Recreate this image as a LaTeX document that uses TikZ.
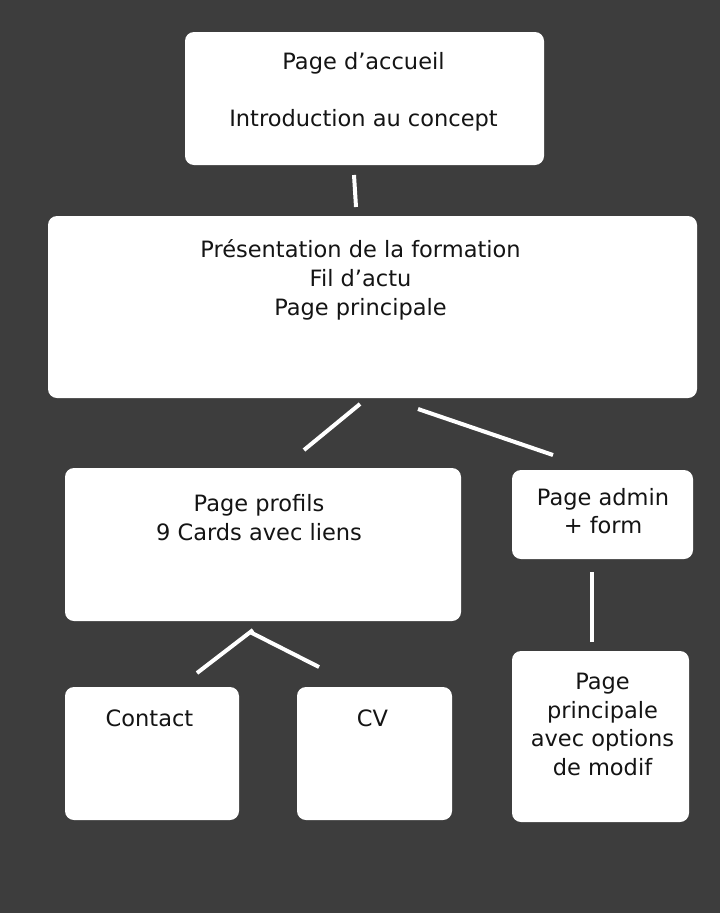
\documentclass[tikz,border=0pt]{standalone}
\usepackage{fontspec}
\setmainfont{DejaVu Sans}
\definecolor{bg}{RGB}{61,61,61}
\definecolor{ink}{RGB}{20,20,20}
\begin{document}
\begin{tikzpicture}[x=1pt,y=-1pt,
  box/.style={fill=white,draw=none,rounded corners=9pt,inner sep=0pt},
  txt/.style={anchor=base,inner sep=0pt,text=ink,font=\fontsize{22.5pt}{29pt}\selectfont},
  link/.style={draw=white,line width=4pt}]
\useasboundingbox (0,0) rectangle (720,913);
\fill[bg] (0,0) rectangle (720,913);
% boxes
\node[box,minimum width=359pt,minimum height=133pt] (b1) at (364.5,98.5) {};
\node[box,minimum width=649pt,minimum height=182pt] (b2) at (372.5,307) {};
\node[box,minimum width=396pt,minimum height=153pt] (b3) at (263,544.5) {};
\node[box,minimum width=181pt,minimum height=89pt] (b4) at (602.5,514.5) {};
\node[box,minimum width=174pt,minimum height=133pt] (b5) at (152,753.5) {};
\node[box,minimum width=155pt,minimum height=133pt] (b6) at (374.5,753.5) {};
\node[box,minimum width=177pt,minimum height=171pt] (b7) at (600.5,736.5) {};
% texts
\node[txt] (t1a) at (363.5,69.3) {Page d’accueil};
\node[txt] (t1b) at (363.5,126.7) {Introduction au concept};
\node[txt] (t2a) at (360.5,257.3) {Présentation de la formation};
\node[txt] (t2b) at (360.5,286.7) {Fil d’actu};
\node[txt] (t2c) at (360.5,315.7) {Page principale};
\node[txt] (t3a) at (259,511.7) {Page profils};
\node[txt] (t3b) at (259,540.7) {9 Cards avec liens};
\node[txt] (t4a) at (603,505) {Page admin};
\node[txt] (t4b) at (603,533.5) {+ form};
\node[txt] (t5) at (149.5,726.7) {Contact};
\node[txt] (t6) at (372.5,726.7) {CV};
\node[txt] (t7a) at (602.5,689.3) {Page};
\node[txt] (t7b) at (602.5,718.3) {principale};
\node[txt] (t7c) at (602.5,746.7) {avec options};
\node[txt] (t7d) at (602.5,775.7) {de modif};
% connector end points
\coordinate (c1a) at (354,175);
\coordinate (c1b) at (356,207);
\coordinate (c2a) at (360,404);
\coordinate (c2b) at (304,450);
\coordinate (c3a) at (418,409);
\coordinate (c3b) at (553,455);
\coordinate (c4a) at (197,673);
\coordinate (c4b) at (253,630);
\coordinate (c5a) at (250,632);
\coordinate (c5b) at (319,667);
\coordinate (c6a) at (592,572);
\coordinate (c6b) at (592,642);
% connectors
\draw[link] (c1a) -- (c1b);
\draw[link] (c2a) -- (c2b);
\draw[link] (c3a) -- (c3b);
\draw[link] (c4a) -- (c4b);
\draw[link] (c5a) -- (c5b);
\draw[link] (c6a) -- (c6b);
\end{tikzpicture}
\end{document}
